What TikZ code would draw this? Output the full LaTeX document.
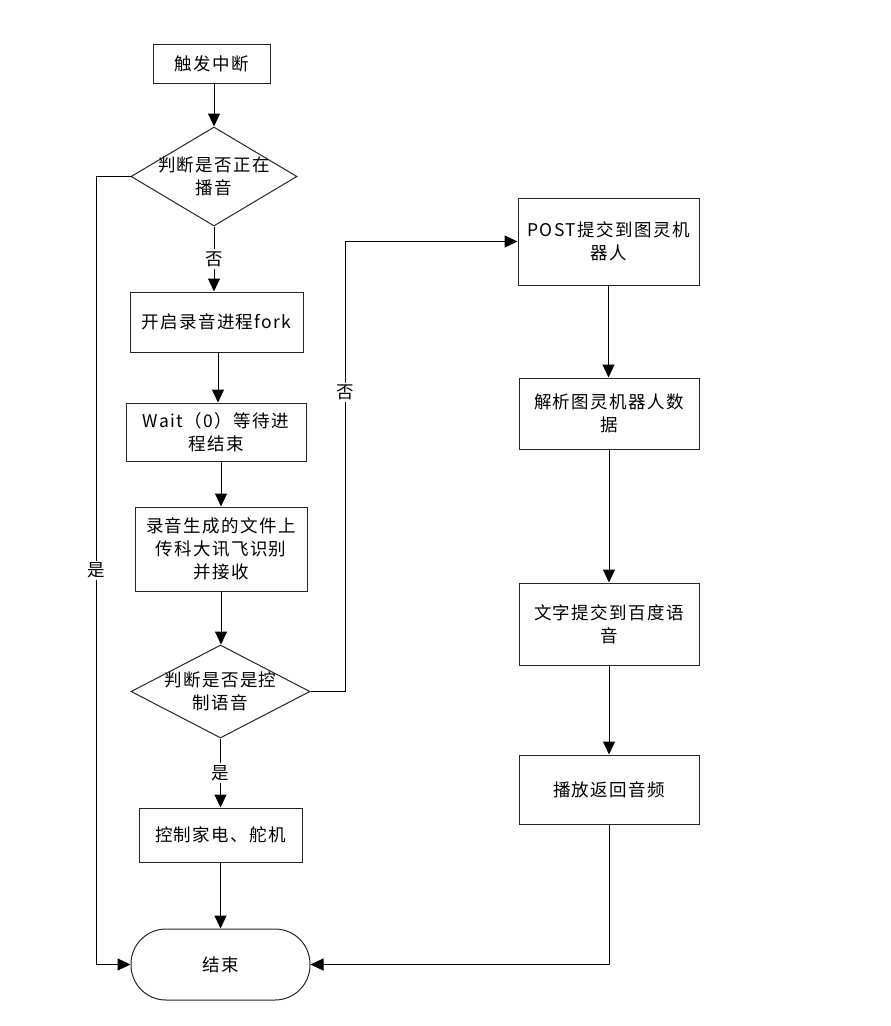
\documentclass[tikz,border=0pt]{standalone}
\usepackage{fontspec}
\setmainfont[LetterSpace=8]{Noto Sans CJK SC}
\usetikzlibrary{shapes.geometric,arrows.meta}
\begin{document}
\begin{tikzpicture}[x=1pt,y=-1pt,
  every node/.style={font=\fontsize{17.5pt}{23pt}\selectfont},
  box/.style={draw=black!85, line width=1pt, inner sep=0pt, align=center},
  dia/.style={draw=black!85, line width=1pt, diamond, inner sep=0pt, aspect=1},
  term/.style={draw=black!85, line width=1pt, rectangle, rounded corners=35pt, inner sep=0pt},
  txt/.style={align=center, inner sep=0pt},
  lbl/.style={fill=white, inner sep=2pt},
  arr/.style={draw=black, line width=1pt, -{Triangle[length=13pt,width=12pt]}},
  ln/.style={draw=black, line width=1pt}]
\useasboundingbox (0,0) rectangle (891,1026);
% left column
\node[box, minimum width=117pt, minimum height=39pt] (n1) at (211.5,63.5) {触发中断};
\node[dia, minimum width=166pt, minimum height=99pt] (d1) at (214,176.5) {};
\node[txt] (t1) at (d1) {判断是否正在\\播音};
\node[box, minimum width=173pt, minimum height=60pt] (n2) at (216.5,322) {开启录音进程fork};
\node[box, minimum width=180pt, minimum height=58pt] (n3) at (216,432) {Wait（0）等待进\\程结束};
\node[box, minimum width=172pt, minimum height=84pt] (n4) at (221,549) {录音生成的文件上\\传科大讯飞识别\\并接收};
\node[dia, minimum width=179pt, minimum height=93pt] (d2) at (220.5,691.5) {};
\node[txt] (t2) at (d2) {判断是否是控\\制语音};
\node[box, minimum width=163pt, minimum height=54pt] (n5) at (220.5,835) {控制家电、舵机};
\node[term, minimum width=179pt, minimum height=71pt] (e) at (220.5,964.5) {结束};
% right column
\node[box, minimum width=181pt, minimum height=87pt] (r1) at (608.5,241.5) {POST提交到图灵机\\器人};
\node[box, minimum width=180pt, minimum height=71pt] (r2) at (609,413.5) {解析图灵机器人数\\据};
\node[box, minimum width=180pt, minimum height=82pt] (r3) at (609,624) {文字提交到百度语\\音};
\node[box, minimum width=180pt, minimum height=69pt] (r4) at (609,789.5) {播放返回音频};
% helper coordinates
\coordinate (lx) at (96,0);
\coordinate (rx) at (345,0);
% connectors
\draw[arr] (n1.south -| d1.north) -- (d1.north);
\draw[arr] (d1.south) -- (d1.south |- n2.north) node[pos=0.5, lbl] {否};
\draw[arr] (n2.south -| 218,0) -- (n3.north -| 218,0);
\draw[arr] (n3.south -| n4.north) -- (n4.north);
\draw[arr] (n4.south) -- (n4.south |- d2.north);
\draw[arr] (d2.south) -- (d2.south |- n5.north) node[pos=0.5, lbl] {是};
\draw[arr] (n5.south) -- (n5.south |- e.north);
\draw[arr] (d1.west) -- (d1.west -| lx) -- (e.west -| lx) node[pos=0.5, lbl] {是} -- (e.west);
\draw[arr] (d2.east) -- (d2.east -| rx) -- (r1.west -| rx) node[pos=0.664, lbl] {否} -- (r1.west);
\draw[arr] (r1.south) -- (r1.south |- r2.north);
\draw[arr] (r2.south) -- (r2.south |- r3.north);
\draw[arr] (r3.south) -- (r3.south |- r4.north);
\draw[arr] (r4.south) -- (r4.south |- e.east) -- (e.east);
\end{tikzpicture}
\end{document}
